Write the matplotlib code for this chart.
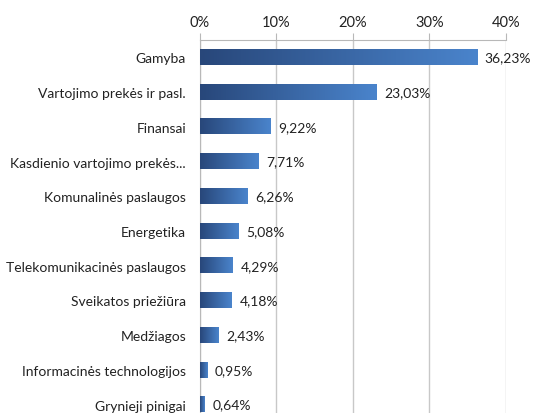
import matplotlib
matplotlib.use("Agg")
import matplotlib.pyplot as plt
import numpy as np

categories = ["Gamyba", "Vartojimo prekės ir pasl.", "Finansai",
              "Kasdienio vartojimo prekės...", "Komunalinės paslaugos", "Energetika",
              "Telekomunikacinės paslaugos", "Sveikatos priežiūra", "Medžiagos",
              "Informacinės technologijos", "Grynieji pinigai"]
values = [36.23, 23.03, 9.22, 7.71, 6.26, 5.08, 4.29, 4.18, 2.43, 0.95, 0.64]
xticks = [0, 10, 20, 30, 40]
xticklabels = ["0%", "10%", "20%", "30%", "40%"]

plt.rcParams['font.family'] = ['Lato', 'DejaVu Sans']
fig = plt.figure(figsize=(5.33, 4.14), dpi=100)
ax = fig.add_axes([0.3752, -0.0217, 0.5741, 0.9227])

n = len(categories)
ypos = np.arange(n)
h = 0.44
cmap = matplotlib.colors.LinearSegmentedColormap.from_list("g", ["#28477a", "#4a84cc"])
grad = np.linspace(0, 1, 256).reshape(1, -1)
for y, v in zip(ypos, values):
    ax.imshow(grad, cmap=cmap, aspect='auto', extent=[0, v, y + h / 2, y - h / 2], zorder=3)
    ax.text(v + 1.0, y, f"{v:.2f}".replace(".", ",") + "%", va='center', ha='left',
            fontsize=10, color='#222222')

ax.set_xlim(0, 40)
ax.set_ylim(n - 0.5, -0.5)
ax.set_yticks(ypos)
ax.set_yticklabels(categories, fontsize=10, color='#222222')
ax.set_xticks(xticks)
ax.set_xticklabels(xticklabels, fontsize=10.5, color='#222222')
ax.xaxis.tick_top()
ax.tick_params(axis='x', length=5, color='#b8b8b8', pad=3)
ax.tick_params(axis='y', length=0, pad=10)
ax.grid(axis='x', color='#c8c8c8', linewidth=1, zorder=0)
for s in ['right', 'bottom']:
    ax.spines[s].set_visible(False)
ax.spines['top'].set_color('#b8b8b8')
ax.spines['left'].set_color('#b8b8b8')
ax.set_axisbelow(True)
fig.savefig("out.png", dpi=100)
